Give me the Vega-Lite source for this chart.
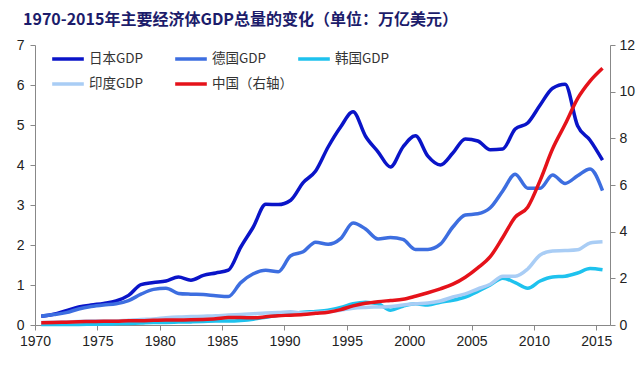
{
"$schema": "https://vega.github.io/schema/vega-lite/v6.json",
"width": 575, "height": 280,
"autosize": {"type": "none"},
"padding": {"left": 35, "top": 45, "right": 34, "bottom": 48},
"background": "white",
"config": {"view": {"stroke": null}, "font": "Liberation Sans"},
"title": {"text": "1970-2015年主要经济体GDP总量的变化（单位：万亿美元）", "anchor": "start", "frame": "group", "dx": -12, "offset": 10, "font": "Noto Sans CJK SC", "fontSize": 16, "fontWeight": "bold", "color": "#1c1c6b"},
"data": {"values": [
{"year":1970,"country":"日本GDP","gdp":0.22},{"year":1971,"country":"日本GDP","gdp":0.27},{"year":1972,"country":"日本GDP","gdp":0.36},{"year":1973,"country":"日本GDP","gdp":0.45},{"year":1974,"country":"日本GDP","gdp":0.50},{"year":1975,"country":"日本GDP","gdp":0.54},{"year":1976,"country":"日本GDP","gdp":0.60},{"year":1977,"country":"日本GDP","gdp":0.74},{"year":1978,"country":"日本GDP","gdp":1.01},{"year":1979,"country":"日本GDP","gdp":1.06},{"year":1980,"country":"日本GDP","gdp":1.10},{"year":1981,"country":"日本GDP","gdp":1.20},{"year":1982,"country":"日本GDP","gdp":1.12},{"year":1983,"country":"日本GDP","gdp":1.24},{"year":1984,"country":"日本GDP","gdp":1.30},{"year":1985,"country":"日本GDP","gdp":1.37},{"year":1986,"country":"日本GDP","gdp":1.95},{"year":1987,"country":"日本GDP","gdp":2.45},{"year":1988,"country":"日本GDP","gdp":3.02},{"year":1989,"country":"日本GDP","gdp":3.01},{"year":1990,"country":"日本GDP","gdp":3.12},{"year":1991,"country":"日本GDP","gdp":3.56},{"year":1992,"country":"日本GDP","gdp":3.85},{"year":1993,"country":"日本GDP","gdp":4.45},{"year":1994,"country":"日本GDP","gdp":4.95},{"year":1995,"country":"日本GDP","gdp":5.33},{"year":1996,"country":"日本GDP","gdp":4.72},{"year":1997,"country":"日本GDP","gdp":4.33},{"year":1998,"country":"日本GDP","gdp":3.95},{"year":1999,"country":"日本GDP","gdp":4.45},{"year":2000,"country":"日本GDP","gdp":4.73},{"year":2001,"country":"日本GDP","gdp":4.22},{"year":2002,"country":"日本GDP","gdp":4.00},{"year":2003,"country":"日本GDP","gdp":4.30},{"year":2004,"country":"日本GDP","gdp":4.65},{"year":2005,"country":"日本GDP","gdp":4.60},{"year":2006,"country":"日本GDP","gdp":4.38},{"year":2007,"country":"日本GDP","gdp":4.40},{"year":2008,"country":"日本GDP","gdp":4.90},{"year":2009,"country":"日本GDP","gdp":5.05},{"year":2010,"country":"日本GDP","gdp":5.50},{"year":2011,"country":"日本GDP","gdp":5.92},{"year":2012,"country":"日本GDP","gdp":6.02},{"year":2013,"country":"日本GDP","gdp":4.98},{"year":2014,"country":"日本GDP","gdp":4.62},{"year":2015,"country":"日本GDP","gdp":4.12},
{"year":1970,"country":"德国GDP","gdp":0.22},{"year":1971,"country":"德国GDP","gdp":0.26},{"year":1972,"country":"德国GDP","gdp":0.31},{"year":1973,"country":"德国GDP","gdp":0.40},{"year":1974,"country":"德国GDP","gdp":0.46},{"year":1975,"country":"德国GDP","gdp":0.50},{"year":1976,"country":"德国GDP","gdp":0.53},{"year":1977,"country":"德国GDP","gdp":0.61},{"year":1978,"country":"德国GDP","gdp":0.77},{"year":1979,"country":"德国GDP","gdp":0.89},{"year":1980,"country":"德国GDP","gdp":0.92},{"year":1981,"country":"德国GDP","gdp":0.79},{"year":1982,"country":"德国GDP","gdp":0.77},{"year":1983,"country":"德国GDP","gdp":0.76},{"year":1984,"country":"德国GDP","gdp":0.73},{"year":1985,"country":"德国GDP","gdp":0.71},{"year":1986,"country":"德国GDP","gdp":1.06},{"year":1987,"country":"德国GDP","gdp":1.28},{"year":1988,"country":"德国GDP","gdp":1.37},{"year":1989,"country":"德国GDP","gdp":1.33},{"year":1990,"country":"德国GDP","gdp":1.73},{"year":1991,"country":"德国GDP","gdp":1.83},{"year":1992,"country":"德国GDP","gdp":2.07},{"year":1993,"country":"德国GDP","gdp":2.02},{"year":1994,"country":"德国GDP","gdp":2.16},{"year":1995,"country":"德国GDP","gdp":2.55},{"year":1996,"country":"德国GDP","gdp":2.40},{"year":1997,"country":"德国GDP","gdp":2.15},{"year":1998,"country":"德国GDP","gdp":2.19},{"year":1999,"country":"德国GDP","gdp":2.14},{"year":2000,"country":"德国GDP","gdp":1.89},{"year":2001,"country":"德国GDP","gdp":1.89},{"year":2002,"country":"德国GDP","gdp":2.02},{"year":2003,"country":"德国GDP","gdp":2.45},{"year":2004,"country":"德国GDP","gdp":2.75},{"year":2005,"country":"德国GDP","gdp":2.78},{"year":2006,"country":"德国GDP","gdp":2.93},{"year":2007,"country":"德国GDP","gdp":3.35},{"year":2008,"country":"德国GDP","gdp":3.77},{"year":2009,"country":"德国GDP","gdp":3.42},{"year":2010,"country":"德国GDP","gdp":3.42},{"year":2011,"country":"德国GDP","gdp":3.75},{"year":2012,"country":"德国GDP","gdp":3.54},{"year":2013,"country":"德国GDP","gdp":3.73},{"year":2014,"country":"德国GDP","gdp":3.90},{"year":2015,"country":"德国GDP","gdp":3.36},
{"year":1970,"country":"韩国GDP","gdp":0.01},{"year":1971,"country":"韩国GDP","gdp":0.01},{"year":1972,"country":"韩国GDP","gdp":0.012},{"year":1973,"country":"韩国GDP","gdp":0.015},{"year":1974,"country":"韩国GDP","gdp":0.02},{"year":1975,"country":"韩国GDP","gdp":0.022},{"year":1976,"country":"韩国GDP","gdp":0.03},{"year":1977,"country":"韩国GDP","gdp":0.04},{"year":1978,"country":"韩国GDP","gdp":0.05},{"year":1979,"country":"韩国GDP","gdp":0.065},{"year":1980,"country":"韩国GDP","gdp":0.065},{"year":1981,"country":"韩国GDP","gdp":0.072},{"year":1982,"country":"韩国GDP","gdp":0.078},{"year":1983,"country":"韩国GDP","gdp":0.087},{"year":1984,"country":"韩国GDP","gdp":0.097},{"year":1985,"country":"韩国GDP","gdp":0.10},{"year":1986,"country":"韩国GDP","gdp":0.115},{"year":1987,"country":"韩国GDP","gdp":0.145},{"year":1988,"country":"韩国GDP","gdp":0.195},{"year":1989,"country":"韩国GDP","gdp":0.245},{"year":1990,"country":"韩国GDP","gdp":0.28},{"year":1991,"country":"韩国GDP","gdp":0.32},{"year":1992,"country":"韩国GDP","gdp":0.34},{"year":1993,"country":"韩国GDP","gdp":0.37},{"year":1994,"country":"韩国GDP","gdp":0.44},{"year":1995,"country":"韩国GDP","gdp":0.53},{"year":1996,"country":"韩国GDP","gdp":0.57},{"year":1997,"country":"韩国GDP","gdp":0.53},{"year":1998,"country":"韩国GDP","gdp":0.37},{"year":1999,"country":"韩国GDP","gdp":0.47},{"year":2000,"country":"韩国GDP","gdp":0.53},{"year":2001,"country":"韩国GDP","gdp":0.50},{"year":2002,"country":"韩国GDP","gdp":0.57},{"year":2003,"country":"韩国GDP","gdp":0.62},{"year":2004,"country":"韩国GDP","gdp":0.70},{"year":2005,"country":"韩国GDP","gdp":0.84},{"year":2006,"country":"韩国GDP","gdp":1.00},{"year":2007,"country":"韩国GDP","gdp":1.17},{"year":2008,"country":"韩国GDP","gdp":1.06},{"year":2009,"country":"韩国GDP","gdp":0.92},{"year":2010,"country":"韩国GDP","gdp":1.10},{"year":2011,"country":"韩国GDP","gdp":1.20},{"year":2012,"country":"韩国GDP","gdp":1.22},{"year":2013,"country":"韩国GDP","gdp":1.30},{"year":2014,"country":"韩国GDP","gdp":1.41},{"year":2015,"country":"韩国GDP","gdp":1.38},
{"year":1970,"country":"印度GDP","gdp":0.065},{"year":1971,"country":"印度GDP","gdp":0.07},{"year":1972,"country":"印度GDP","gdp":0.075},{"year":1973,"country":"印度GDP","gdp":0.085},{"year":1974,"country":"印度GDP","gdp":0.10},{"year":1975,"country":"印度GDP","gdp":0.10},{"year":1976,"country":"印度GDP","gdp":0.10},{"year":1977,"country":"印度GDP","gdp":0.12},{"year":1978,"country":"印度GDP","gdp":0.14},{"year":1979,"country":"印度GDP","gdp":0.15},{"year":1980,"country":"印度GDP","gdp":0.18},{"year":1981,"country":"印度GDP","gdp":0.20},{"year":1982,"country":"印度GDP","gdp":0.21},{"year":1983,"country":"印度GDP","gdp":0.22},{"year":1984,"country":"印度GDP","gdp":0.23},{"year":1985,"country":"印度GDP","gdp":0.25},{"year":1986,"country":"印度GDP","gdp":0.26},{"year":1987,"country":"印度GDP","gdp":0.28},{"year":1988,"country":"印度GDP","gdp":0.30},{"year":1989,"country":"印度GDP","gdp":0.31},{"year":1990,"country":"印度GDP","gdp":0.33},{"year":1991,"country":"印度GDP","gdp":0.30},{"year":1992,"country":"印度GDP","gdp":0.31},{"year":1993,"country":"印度GDP","gdp":0.33},{"year":1994,"country":"印度GDP","gdp":0.37},{"year":1995,"country":"印度GDP","gdp":0.42},{"year":1996,"country":"印度GDP","gdp":0.44},{"year":1997,"country":"印度GDP","gdp":0.45},{"year":1998,"country":"印度GDP","gdp":0.46},{"year":1999,"country":"印度GDP","gdp":0.50},{"year":2000,"country":"印度GDP","gdp":0.53},{"year":2001,"country":"印度GDP","gdp":0.55},{"year":2002,"country":"印度GDP","gdp":0.60},{"year":2003,"country":"印度GDP","gdp":0.70},{"year":2004,"country":"印度GDP","gdp":0.78},{"year":2005,"country":"印度GDP","gdp":0.90},{"year":2006,"country":"印度GDP","gdp":1.02},{"year":2007,"country":"印度GDP","gdp":1.22},{"year":2008,"country":"印度GDP","gdp":1.22},{"year":2009,"country":"印度GDP","gdp":1.40},{"year":2010,"country":"印度GDP","gdp":1.75},{"year":2011,"country":"印度GDP","gdp":1.85},{"year":2012,"country":"印度GDP","gdp":1.86},{"year":2013,"country":"印度GDP","gdp":1.88},{"year":2014,"country":"印度GDP","gdp":2.05},{"year":2015,"country":"印度GDP","gdp":2.08},
{"year":1970,"country":"中国（右轴）","gdp":0.10},{"year":1971,"country":"中国（右轴）","gdp":0.11},{"year":1972,"country":"中国（右轴）","gdp":0.12},{"year":1973,"country":"中国（右轴）","gdp":0.14},{"year":1974,"country":"中国（右轴）","gdp":0.15},{"year":1975,"country":"中国（右轴）","gdp":0.16},{"year":1976,"country":"中国（右轴）","gdp":0.16},{"year":1977,"country":"中国（右轴）","gdp":0.18},{"year":1978,"country":"中国（右轴）","gdp":0.18},{"year":1979,"country":"中国（右轴）","gdp":0.20},{"year":1980,"country":"中国（右轴）","gdp":0.21},{"year":1981,"country":"中国（右轴）","gdp":0.21},{"year":1982,"country":"中国（右轴）","gdp":0.22},{"year":1983,"country":"中国（右轴）","gdp":0.24},{"year":1984,"country":"中国（右轴）","gdp":0.27},{"year":1985,"country":"中国（右轴）","gdp":0.32},{"year":1986,"country":"中国（右轴）","gdp":0.32},{"year":1987,"country":"中国（右轴）","gdp":0.31},{"year":1988,"country":"中国（右轴）","gdp":0.35},{"year":1989,"country":"中国（右轴）","gdp":0.40},{"year":1990,"country":"中国（右轴）","gdp":0.42},{"year":1991,"country":"中国（右轴）","gdp":0.45},{"year":1992,"country":"中国（右轴）","gdp":0.50},{"year":1993,"country":"中国（右轴）","gdp":0.55},{"year":1994,"country":"中国（右轴）","gdp":0.66},{"year":1995,"country":"中国（右轴）","gdp":0.82},{"year":1996,"country":"中国（右轴）","gdp":0.93},{"year":1997,"country":"中国（右轴）","gdp":1.00},{"year":1998,"country":"中国（右轴）","gdp":1.05},{"year":1999,"country":"中国（右轴）","gdp":1.10},{"year":2000,"country":"中国（右轴）","gdp":1.23},{"year":2001,"country":"中国（右轴）","gdp":1.38},{"year":2002,"country":"中国（右轴）","gdp":1.55},{"year":2003,"country":"中国（右轴）","gdp":1.75},{"year":2004,"country":"中国（右轴）","gdp":2.05},{"year":2005,"country":"中国（右轴）","gdp":2.45},{"year":2006,"country":"中国（右轴）","gdp":2.93},{"year":2007,"country":"中国（右轴）","gdp":3.75},{"year":2008,"country":"中国（右轴）","gdp":4.62},{"year":2009,"country":"中国（右轴）","gdp":5.05},{"year":2010,"country":"中国（右轴）","gdp":6.20},{"year":2011,"country":"中国（右轴）","gdp":7.55},{"year":2012,"country":"中国（右轴）","gdp":8.60},{"year":2013,"country":"中国（右轴）","gdp":9.70},{"year":2014,"country":"中国（右轴）","gdp":10.45},{"year":2015,"country":"中国（右轴）","gdp":11.00}
]},
"encoding": {
  "x": {"field": "year", "type": "quantitative", "scale": {"domain": [1969.5, 2015.6], "nice": false, "zero": false},
        "axis": {"values": [1970,1975,1980,1985,1990,1995,2000,2005,2010,2015], "format": "d", "title": null, "grid": false, "tickOffset": -6.2, "tickSize": 5, "tickColor": "#888", "domainColor": "#888", "labelFontSize": 14, "labelColor": "#222", "labelPadding": 4, "labelFont": "Liberation Sans"}}
},
"layer": [
  {"transform": [{"filter": "datum.country !== '中国（右轴）'"}],
   "mark": {"type": "line", "interpolate": "monotone", "strokeWidth": 3.5},
   "encoding": {
     "y": {"field": "gdp", "type": "quantitative", "scale": {"domain": [0, 7], "nice": false},
           "axis": {"values": [0,1,2,3,4,5,6,7], "title": null, "grid": false, "tickSize": 5, "tickColor": "#888", "domainColor": "#888", "labelFontSize": 14, "labelColor": "#222", "labelPadding": 6, "labelFont": "Liberation Sans"}},
     "color": {"field": "country", "type": "nominal",
       "scale": {"domain": ["日本GDP","德国GDP","韩国GDP","印度GDP","中国（右轴）"], "range": ["#0a14c8","#3d6ee0","#1ec2ee","#a9cdf5","#e5121a"]},
       "legend": {"orient": "none", "legendX": 15, "legendY": -4, "direction": "horizontal", "columns": 3, "gridAlign": "all", "columnPadding": -2, "rowPadding": -6, "symbolType": "stroke", "symbolSize": 1000, "symbolStrokeWidth": 3.5, "labelFont": "Noto Sans CJK SC", "labelFontSize": 13.5, "labelColor": "#333", "labelOffset": 3, "title": null, "padding": 0}}
   }},
  {"transform": [{"filter": "datum.country === '中国（右轴）'"}],
   "mark": {"type": "line", "interpolate": "monotone", "strokeWidth": 3.5},
   "encoding": {
     "y": {"field": "gdp", "type": "quantitative", "scale": {"domain": [0, 12], "nice": false},
           "axis": {"orient": "right", "values": [0,2,4,6,8,10,12], "title": null, "grid": false, "tickSize": 5, "tickColor": "#888", "domainColor": "#888", "labelFontSize": 14, "labelColor": "#222", "labelPadding": 4, "labelFont": "Liberation Sans"}},
     "color": {"field": "country", "type": "nominal",
       "scale": {"domain": ["日本GDP","德国GDP","韩国GDP","印度GDP","中国（右轴）"], "range": ["#0a14c8","#3d6ee0","#1ec2ee","#a9cdf5","#e5121a"]},
       "legend": {"orient": "none", "legendX": 15, "legendY": -4, "direction": "horizontal", "columns": 3, "gridAlign": "all", "columnPadding": -2, "rowPadding": -6, "symbolType": "stroke", "symbolSize": 1000, "symbolStrokeWidth": 3.5, "labelFont": "Noto Sans CJK SC", "labelFontSize": 13.5, "labelColor": "#333", "labelOffset": 3, "title": null, "padding": 0}}
   }}
],
"resolve": {"scale": {"y": "independent"}}
}
